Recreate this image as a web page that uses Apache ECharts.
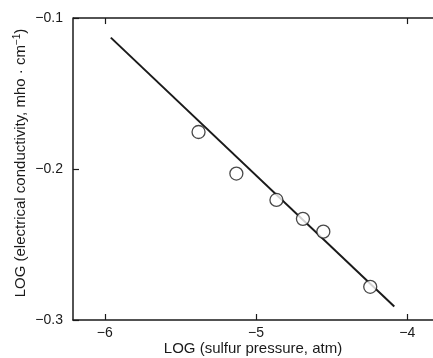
<!DOCTYPE html>
<html>
<head>
<meta charset="utf-8">
<script src="https://cdn.jsdelivr.net/npm/echarts@6/dist/echarts.min.js"></script>
<style>
  html, body { margin: 0; padding: 0; background: #fff; }
  #chart { width: 433px; height: 358px; }
</style>
</head>
<body>
<div id="chart"></div>
<script>
// measured points: log sulfur pressure (atm) vs log conductivity
const pressureLog = [-5.38, -5.13, -4.865, -4.69, -4.555, -4.245];
const conductivityLog = [-0.1755, -0.203, -0.2205, -0.233, -0.2415, -0.278];
// fitted straight line, end points
const fitX = [-5.96, -4.086];
const fitY = [-0.113, -0.291];
const xTicks = [-6, -5, -4];
const yTicks = [-0.3, -0.2, -0.1];
const topTicks = [-6, -4];

const INK = '#1a1a1a';
const FONT = 'Liberation Sans';
const Y_MAX = -0.1;
const minus = (v) => String(v).replace('-', '\u2212');

const chart = echarts.init(document.getElementById('chart'), null, { renderer: 'canvas' });

const AXIS_LINE = { show: true, onZero: false, lineStyle: { color: INK, width: 1.5 } };
const TICK = { color: INK, width: 1.2 };

// top frame line + its two inward ticks, drawn as markLines in data space
const frameMarks = [{ yAxis: Y_MAX, lineStyle: { width: 1.5 } }].concat(
  topTicks.map((x) => [{ coord: [x, Y_MAX] }, { coord: [x, Y_MAX - 0.004] }])
);

chart.setOption({
  animation: false,
  grid: { left: 73, right: 0, top: 18, bottom: 38, outerBoundsMode: 'none', containLabel: false },
  xAxis: {
    type: 'value', min: -6.21, max: -3.83, position: 'bottom',
    name: 'LOG (sulfur pressure, atm)', nameLocation: 'middle', nameGap: 21, nameMoveOverlap: false,
    nameTextStyle: { color: INK, fontSize: 15, fontFamily: FONT },
    axisLine: AXIS_LINE,
    axisTick: { show: true, inside: true, length: 6, customValues: xTicks, lineStyle: TICK },
    axisLabel: { customValues: xTicks, formatter: minus, color: INK, fontSize: 14, fontFamily: FONT, margin: 6 },
    splitLine: { show: false },
  },
  yAxis: {
    type: 'value', min: -0.3, max: Y_MAX, position: 'left',
    name: '{t|LOG (electrical conductivity, mho \u00b7 cm}{s|\u22121}{t|)}',
    nameLocation: 'middle', nameGap: 44, nameRotate: 90, nameMoveOverlap: false,
    nameTextStyle: {
      color: INK, fontFamily: FONT, padding: [0, 0, 0, 12],
      rich: {
        t: { fontSize: 15, fontFamily: FONT, color: INK },
        s: { fontSize: 10, fontFamily: FONT, color: INK, verticalAlign: 'top', padding: [0, 0, 7, 0] },
      },
    },
    axisLine: AXIS_LINE,
    axisTick: { show: true, inside: true, length: 6, customValues: yTicks, lineStyle: TICK },
    axisLabel: { customValues: yTicks, formatter: (v) => minus(v.toFixed(1)), color: INK, fontSize: 14, fontFamily: FONT, margin: 10 },
    splitLine: { show: false },
  },
  series: [{
    type: 'line', data: fitX.map((x, i) => [x, fitY[i]]),
    showSymbol: false, lineStyle: { color: INK, width: 2 }, z: 2,
    markLine: {
      silent: true, symbol: 'none', label: { show: false },
      lineStyle: { color: INK, width: 1.2, type: 'solid' },
      emphasis: { disabled: true },
      data: frameMarks,
    },
  }, {
    type: 'scatter', data: pressureLog.map((x, i) => [x, conductivityLog[i]]),
    symbol: 'circle', symbolSize: 13,
    itemStyle: { color: '#fff', borderColor: INK, borderWidth: 1.3 }, z: 3,
  }],
});
</script>
</body>
</html>
